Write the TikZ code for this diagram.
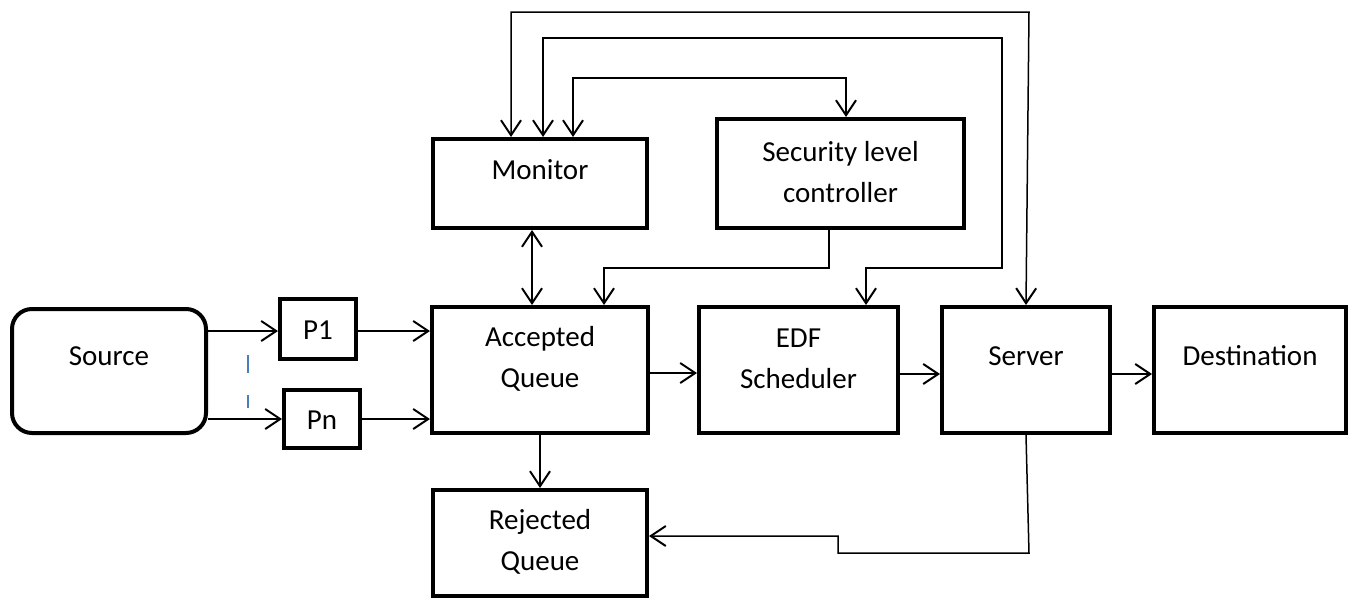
\documentclass[tikz,border=0pt]{standalone}
\usepackage{fontspec}
\setmainfont{Carlito}
\usetikzlibrary{arrows.meta,calc}
\begin{document}
\begin{tikzpicture}[x=1pt,y=-1pt,
  blk/.style={draw, line width=4pt, inner sep=0pt},
  txt/.style={inner sep=0pt, align=center, font=\fontsize{29}{41}\selectfont},
  conn/.style={line width=1.8pt, line join=miter},
  thin conn/.style={line width=1.5pt},
  tipb/.tip={Straight Barb[length=15pt,width=20pt,line width=2pt]},
  arr/.style={conn, -tipb},
  dbl/.style={conn, tipb-tipb},
  dashblue/.style={draw=dashcol, line width=1.6pt}]
\definecolor{dashcol}{HTML}{4A7EBB}
\useasboundingbox (0,0) rectangle (1350,600);
% boxes
\node[blk, rounded corners=20pt, minimum width=194pt, minimum height=124pt] (src) at (109,371) {};
\node[blk, minimum width=76pt, minimum height=60pt] (p1) at (318,329) {};
\node[blk, minimum width=76pt, minimum height=58pt] (pn) at (322,419) {};
\node[blk, minimum width=216pt, minimum height=126pt] (aq) at (540,370) {};
\node[blk, minimum width=199pt, minimum height=126pt] (edf) at (798.5,370) {};
\node[blk, minimum width=168pt, minimum height=126pt] (srv) at (1026,370) {};
\node[blk, minimum width=192pt, minimum height=126pt] (dst) at (1250,370) {};
\node[blk, minimum width=214pt, minimum height=89pt] (mon) at (540,183.5) {};
\node[blk, minimum width=247pt, minimum height=109pt] (slc) at (840.5,173.5) {};
\node[blk, minimum width=214pt, minimum height=106pt] (rej) at (540,543) {};
% texts
\node[txt] (srcT) at (109,356) {Source};
\node[txt] (p1T) at (318,330) {P1};
\node[txt] (pnT) at (322,420) {Pn};
\node[txt] (aqT) at (540,359) {Accepted\\Queue};
\node[txt] (edfT) at (798.5,359) {EDF\\Scheduler};
\node[txt] (srvT) at (1026,356) {Server};
\node[txt] (dstT) at (1250,356) {Destination};
\node[txt] (monT) at (540,170) {Monitor};
\node[txt] (slcT) at (840.5,172) {Security level\\controller};
\node[txt] (rejT) at (540,542) {Rejected\\Queue};
% dashed marks between the P1 and Pn inputs
\coordinate (d1) at (248,355);
\coordinate (d2) at (248,373);
\coordinate (d3) at (248,395);
\coordinate (d4) at (248,408);
\draw[dashblue] (d1) -- (d2);
\draw[dashblue] (d3) -- (d4);
% inputs
\draw[arr] (src.east |- 0,331) -- (p1.west |- 0,331);
\draw[arr] (src.east |- pn.west) -- (pn.west);
\draw[arr] (p1.east |- 0,331) -- (aq.west |- 0,331);
\draw[arr] (pn.east) -- (aq.west |- pn.east);
% main chain
\draw[arr] ([yshift=-3pt]aq.east) -- ([yshift=-3pt]edf.west);
\draw[arr] ([yshift=-4pt]edf.west -| edf.east) -- ([yshift=-4pt]srv.west);
\draw[arr] ([yshift=-4pt]srv.east) -- ([yshift=-4pt]dst.west);
% monitor <-> accepted queue
\draw[dbl] ([xshift=-8pt]mon.south) -- ([xshift=-8pt]aq.north);
% accepted -> rejected
\draw[arr] (aq.south) -- (rej.north);
% security level controller -> accepted queue
\coordinate (s1) at (829,268);
\draw[arr, thin conn] ([xshift=-11.5pt]slc.south) -- (s1) -| ([xshift=64pt]aq.north);
% feedback loops at the top
\coordinate (t1) at (1029,12);
\draw[thin conn, tipb-tipb] ([xshift=-29pt]mon.north) |- (t1) -- (srv.north);
\coordinate (t2) at (1002,38);
\coordinate (t2b) at (1002,268);
\draw[thin conn, tipb-tipb] ([xshift=3pt]mon.north) |- (t2) -- (t2b) -| ([xshift=67.5pt]edf.north);
\coordinate (t3) at (846,78);
\draw[thin conn, tipb-tipb] ([xshift=33pt]mon.north) |- (t3) -- ([xshift=5.5pt]slc.north);
% server -> rejected queue
\coordinate (r1) at (1029,553);
\coordinate (r2) at (838,553);
\coordinate (r3) at (838,536);
\draw[thin conn, -tipb] (srv.south) -- (r1) -- (r2) -- (r3) -- (rej.east |- r3);
\end{tikzpicture}
\end{document}
